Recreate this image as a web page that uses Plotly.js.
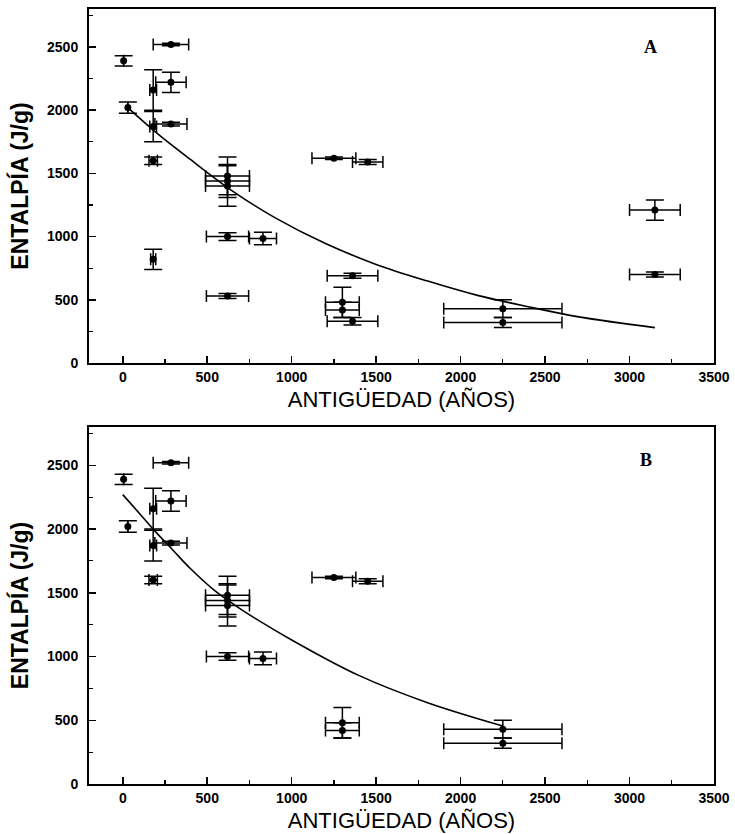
<!DOCTYPE html>
<html>
<head>
<meta charset="utf-8">
<script src="https://cdn.plot.ly/plotly-3.0.1.min.js"></script>
<style>html,body{margin:0;padding:0;background:#ffffff;}</style>
</head>
<body>
<div id="chart" style="width:735px;height:834px;"></div>
<script>
// ---- Panel A data ----
const xA = [5, 30, 285, 285, 180, 180, 285, 180, 180, 620, 620, 620, 620, 830, 620, 1250, 1450, 1360, 1300, 1300, 1360, 2250, 2250, 3150, 3150];
const yA = [2390, 2020, 2520, 2220, 2160, 1870, 1890, 1600, 820, 1480, 1440, 1400, 1000, 985, 530, 1620, 1590, 690, 480, 420, 330, 430, 320, 1210, 700];
const xErrA = [0, 0, 105, 90, 20, 20, 95, 25, 15, 130, 130, 130, 125, 80, 125, 130, 90, 150, 100, 100, 150, 350, 350, 150, 150];
const yErrA = [40, 45, 10, 80, 160, 120, 15, 30, 80, 150, 130, 160, 30, 50, 20, 10, 20, 20, 120, 60, 30, 70, 40, 80, 20];
const curveXA = [30, 200, 400, 650, 900, 1200, 1500, 1800, 2100, 2400, 2700, 3150];
const curveYA = [2020, 1820, 1610, 1360, 1150, 945, 780, 650, 535, 445, 365, 280];

// ---- Panel B data ----
const xB = [5, 30, 285, 285, 180, 180, 285, 180, 620, 620, 620, 620, 830, 1250, 1450, 1300, 1300, 2250, 2250];
const yB = [2390, 2020, 2520, 2220, 2160, 1870, 1890, 1600, 1480, 1440, 1400, 1000, 985, 1620, 1590, 480, 420, 430, 320];
const xErrB = [0, 0, 105, 90, 20, 20, 95, 25, 130, 130, 130, 125, 80, 130, 90, 100, 100, 350, 350];
const yErrB = [40, 45, 10, 80, 160, 120, 15, 30, 150, 130, 160, 30, 50, 10, 20, 120, 60, 70, 40];
const curveXB = [0, 100, 200, 300, 400, 550, 700, 1000, 1400, 1800, 2250];
const curveYB = [2270, 2120, 1970, 1830, 1690, 1510, 1370, 1130, 850, 640, 455];

// ---- Labels ----
const xTitle = 'ANTIGÜEDAD (AÑOS)';
const yTitle = 'ENTALPÍA (J/g)';
const panelLabels = ['A', 'B'];
const xTicks = [0, 500, 1000, 1500, 2000, 2500, 3000, 3500];
const yTicks = [0, 500, 1000, 1500, 2000, 2500];

const ink = '#000000';
function points(x, y, ex, ey, xa, ya) {
  return {
    type: 'scatter', mode: 'markers', x: x, y: y, xaxis: xa, yaxis: ya,
    marker: {symbol: 'circle', size: 7, color: ink},
    error_x: {type: 'data', array: ex, visible: true, color: ink, thickness: 1.5, width: 6},
    error_y: {type: 'data', array: ey, visible: true, color: ink, thickness: 1.5, width: 9},
    showlegend: false, hoverinfo: 'x+y'
  };
}
function curve(x, y, xa, ya) {
  return {
    type: 'scatter', mode: 'lines', x: x, y: y, xaxis: xa, yaxis: ya,
    line: {color: ink, width: 1.6, shape: 'spline', smoothing: 1},
    showlegend: false, hoverinfo: 'skip'
  };
}
const data = [
  points(xA, yA, xErrA, yErrA, 'x', 'y'),
  curve(curveXA, curveYA, 'x', 'y'),
  points(xB, yB, xErrB, yErrB, 'x2', 'y2'),
  curve(curveXB, curveYB, 'x2', 'y2')
];

const tickFont = {family: 'Liberation Sans, Arial, sans-serif', size: 14, color: ink, weight: 'bold'};
function xaxisDef(anchor) {
  return {
    anchor: anchor, domain: [0, 1], range: [-200, 3500],
    tickmode: 'array', tickvals: xTicks, ticktext: xTicks.map(String),
    ticks: 'inside', ticklen: 7, tickwidth: 1.5, tickcolor: ink,
    minor: {dtick: 250, tick0: 0, ticks: 'inside', ticklen: 4, tickwidth: 1.2, tickcolor: ink, showgrid: false},
    showline: true, linecolor: ink, linewidth: 2, mirror: true,
    showgrid: false, zeroline: false, tickfont: tickFont,
    title: {text: xTitle, font: {family: 'Liberation Sans, Arial, sans-serif', size: 22, color: ink}, standoff: 8}
  };
}
function yaxisDef(anchor, domain) {
  return {
    anchor: anchor, domain: domain, range: [0, 2800],
    tickmode: 'array', tickvals: yTicks, ticktext: yTicks.map(String),
    ticks: 'inside', ticklen: 7, tickwidth: 1.5, tickcolor: ink,
    minor: {dtick: 250, tick0: 0, ticks: 'inside', ticklen: 4, tickwidth: 1.2, tickcolor: ink, showgrid: false},
    showline: true, linecolor: ink, linewidth: 2, mirror: true,
    showgrid: false, zeroline: false, tickfont: tickFont, ticklabelstandoff: 6,
    title: {text: yTitle, font: {family: 'Liberation Sans, Arial, sans-serif', size: 23, color: ink, weight: 'bold'}, standoff: 12}
  };
}
const layout = {
  width: 735, height: 834,
  margin: {l: 89, r: 21, t: 9, b: 50},
  paper_bgcolor: '#ffffff', plot_bgcolor: '#ffffff',
  showlegend: false,
  xaxis: xaxisDef('y'),
  yaxis: yaxisDef('x', [0.5432, 1]),
  xaxis2: xaxisDef('y2'),
  yaxis2: yaxisDef('x2', [0, 0.4606]),
  annotations: [
    {text: panelLabels[0], xref: 'x', yref: 'y', x: 3125, y: 2500, showarrow: false,
     font: {family: 'Liberation Serif, Times New Roman, serif', size: 18, color: ink, weight: 'bold'}},
    {text: panelLabels[1], xref: 'x2', yref: 'y2', x: 3100, y: 2540, showarrow: false,
     font: {family: 'Liberation Serif, Times New Roman, serif', size: 18, color: ink, weight: 'bold'}}
  ]
};
Plotly.newPlot('chart', data, layout, {displayModeBar: false, staticPlot: true});
</script>
</body>
</html>
